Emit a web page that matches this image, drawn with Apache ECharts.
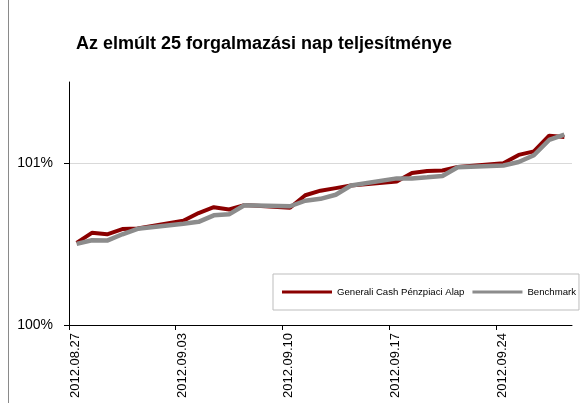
<!DOCTYPE html>
<html>
<head>
<meta charset="utf-8">
<script src="https://cdn.jsdelivr.net/npm/echarts@6/dist/echarts.min.js"></script>
<style>
html,body{margin:0;padding:0;background:#fff;}
#chart{width:583px;height:403px;}
</style>
</head>
<body>
<div id="chart"></div>
<script>
var titleText = 'Az elmúlt 25 forgalmazási nap teljesítménye';
var seriesNames = ['Generali Cash Pénzpiaci Alap', 'Benchmark'];
var startDate = '2012.08.27';
var dates = [
  '2012.08.27','2012.08.28','2012.08.29','2012.08.30','2012.08.31',
  '2012.09.03','2012.09.04','2012.09.05','2012.09.06','2012.09.07',
  '2012.09.10','2012.09.11','2012.09.12','2012.09.13','2012.09.14',
  '2012.09.17','2012.09.18','2012.09.19','2012.09.20','2012.09.21',
  '2012.09.24','2012.09.25','2012.09.26','2012.09.27','2012.09.28'
];
var fundValues = [
  100.507,100.569,100.560,100.592,100.596,
  100.643,100.691,100.727,100.713,100.740,
  100.724,100.801,100.829,100.845,100.861,
  100.886,100.938,100.951,100.954,100.975,
  100.998,101.050,101.072,101.169,101.161
];
var benchValues = [
  100.501,100.523,100.521,100.560,100.594,
  100.625,100.637,100.677,100.683,100.739,
  100.733,100.767,100.779,100.804,100.861,
  100.905,100.905,100.912,100.920,100.974,
  100.985,101.006,101.048,101.142,101.175
];
var tickLabels = ['2012.08.27','2012.09.03','2012.09.10','2012.09.17','2012.09.24'];
var yTickValues = [100, 101];

function parseD(s){ var p = s.split('.'); return Date.UTC(+p[0], +p[1]-1, +p[2]); }
var t0 = parseD(startDate);
function dayIdx(s){ return Math.round((parseD(s) - t0) / 86400000); }
var xDays = dates.map(function(d){ return dayIdx(d) + 0.5; });
var tickDays = tickLabels.map(dayIdx);
var lastDay = dayIdx(dates[dates.length-1]) + 1;

function pairs(vals){ return vals.map(function(v,i){ return [xDays[i], v]; }); }

var FONT = '"Liberation Sans", Arial, Helvetica, sans-serif';
var chart = echarts.init(document.getElementById('chart'), null, {renderer:'canvas'});
chart.setOption({
  animation: false,
  backgroundColor: '#ffffff',
  title: {
    text: titleText, left: 76, top: 35, padding: 0,
    textStyle: {fontFamily: FONT, fontSize: 18, fontWeight: 'bold', color: '#000'}
  },
  legend: {
    data: seriesNames, left: 273, top: 274, orient: 'horizontal',
    icon: 'rect', itemWidth: 50, itemHeight: 3, itemGap: 8,
    padding: [13, 3, 13, 9],
    borderColor: '#bdbdbd', borderWidth: 1, backgroundColor: '#fff',
    textStyle: {fontFamily: FONT, fontSize: 9.6, color: '#000'}
  },
  graphic: [{
    type: 'line', shape: {x1: 8.5, y1: 0, x2: 8.5, y2: 403},
    style: {stroke: '#8a8a8a', lineWidth: 1}, silent: true
  }],
  grid: {left: 69, right: 11, top: 82, bottom: 78},
  xAxis: {
    type: 'value', min: 0, max: lastDay, interval: 7,
    axisLine: {show: true, onZero: false, lineStyle: {color: '#000', width: 1}},
    axisTick: {show: true, length: 5, customValues: tickDays, lineStyle: {color: '#000'}},
    axisLabel: {
      customValues: tickDays, rotate: 90, margin: 8,
      verticalAlign: 'top', lineHeight: 13,
      fontFamily: FONT, fontSize: 13, color: '#000',
      formatter: function(v){ var i = tickDays.indexOf(Math.round(v)); return i >= 0 ? tickLabels[i] : ''; }
    },
    splitLine: {show: false}
  },
  yAxis: {
    type: 'value', min: 100, max: 101.5, interval: 1,
    axisLine: {show: true, lineStyle: {color: '#000', width: 1}},
    axisTick: {show: true, length: 5, customValues: yTickValues, lineStyle: {color: '#000'}},
    axisLabel: {
      customValues: yTickValues, margin: 16,
      fontFamily: FONT, fontSize: 14, color: '#000',
      formatter: function(v){ return Math.round(v) + '%'; }
    },
    splitLine: {show: true, lineStyle: {color: ['rgba(0,0,0,0)', '#d9d9d9', 'rgba(0,0,0,0)'], width: 1}}
  },
  series: [
    {
      name: seriesNames[0], type: 'line', data: pairs(fundValues),
      showSymbol: false, symbol: 'none',
      lineStyle: {color: '#8b0000', width: 4}, itemStyle: {color: '#8b0000'}
    },
    {
      name: seriesNames[1], type: 'line', data: pairs(benchValues),
      showSymbol: false, symbol: 'none',
      lineStyle: {color: '#8c8c8c', width: 4.5}, itemStyle: {color: '#8c8c8c'}
    }
  ]
});
</script>
</body>
</html>
